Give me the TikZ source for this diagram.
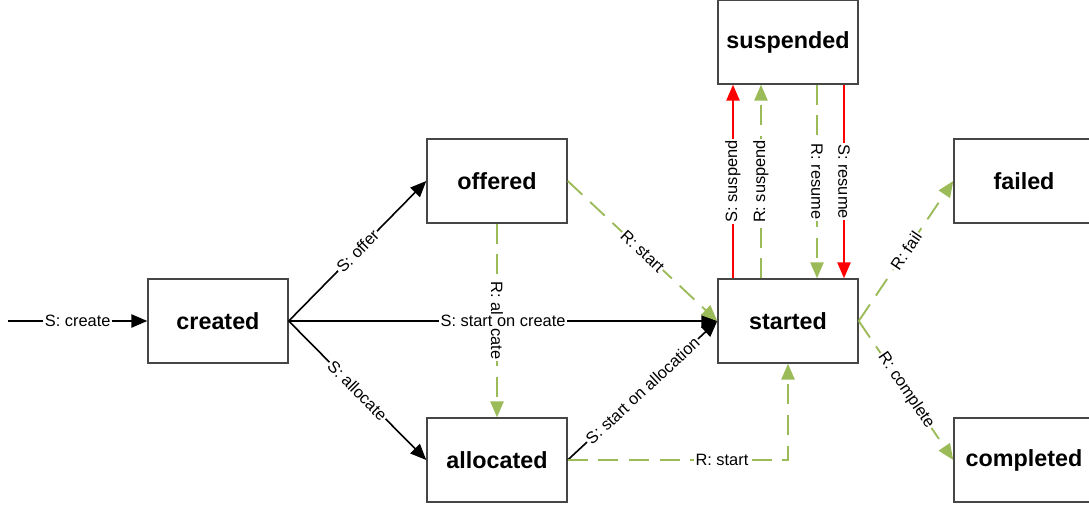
\documentclass[tikz,border=0pt]{standalone}
\usepackage{fontspec}
\setmainfont{Liberation Sans}
\usetikzlibrary{positioning, arrows.meta}
\definecolor{resgreen}{RGB}{155,187,89}
\definecolor{boxgray}{RGB}{70,70,70}

\begin{document}
\begin{tikzpicture}[x=0.75pt, y=-0.75pt,
  stateb/.style={draw=boxgray, line width=1.1pt, fill=white,
                 minimum width=105pt, minimum height=63pt,
                 font=\fontsize{17.5}{20}\selectfont\bfseries, align=center},
  lbl/.style={fill=white, text=black, inner sep=1pt, font=\fontsize{12.3}{14}\selectfont},
  sarr/.style={-{Triangle[length=12pt, width=10pt]}, line width=1.2pt, black},
  rarr/.style={-{Triangle[length=12pt, width=10pt]}, line width=1.4pt, resgreen,
               dash pattern=on 15pt off 8pt},
  redarr/.style={-{Triangle[length=12pt, width=10pt]}, line width=1.2pt, red},
]
\useasboundingbox (0,0) rectangle (1089,504);

% States
\node[stateb] (created)   at (218, 321) {created};
\node[stateb] (offered)   at (497, 181) {offered};
\node[stateb] (allocated) at (497, 460) {allocated};
\node[stateb] (started)   at (788, 321) {started};
\node[stateb] (suspended) at (788,  42) {suspended};
\node[stateb] (failed)    at (1024, 181) {failed};
\node[stateb] (completed) at (1024, 460) {completed};

% Initial transition
\coordinate (init) at (8, 321);
\draw[sarr] (init) -- node[lbl] {S: create} (created.west);

% R: allocate (drawn first, the start-on-create label covers it)
\draw[rarr] (offered.south) -- node[lbl, rotate=-90] {R: allocate} (allocated.north);

% System transitions from created
\draw[sarr] (created.east) -- node[lbl, sloped] {S: offer} (offered.west);
\draw[sarr] (created.east) -- node[lbl, sloped] {S: allocate} (allocated.west);
\draw[sarr] (created.east) -- node[lbl] {S: start on create} (started.west);

% Start transitions
\draw[rarr] (offered.east) -- node[lbl, sloped] {R: start} (started.west);
\draw[sarr] (allocated.east) -- node[lbl, sloped] {S: start on allocation} (started.west);
\draw[rarr] (allocated.east) -| node[lbl, pos=0.35] {R: start} (started.south);

% Suspend / resume
\draw[redarr] ([xshift=-55*0.75pt]started.north) -- node[lbl, rotate=90] {S: suspend}
  ([xshift=-55*0.75pt]suspended.south);
\draw[rarr] ([xshift=-27*0.75pt]started.north) -- node[lbl, rotate=90] {R: suspend}
  ([xshift=-27*0.75pt]suspended.south);
\draw[rarr] ([xshift=29*0.75pt]suspended.south) -- node[lbl, rotate=-90] {R: resume}
  ([xshift=29*0.75pt]started.north);
\draw[redarr] ([xshift=56*0.75pt]suspended.south) -- node[lbl, rotate=-90] {S: resume}
  ([xshift=56*0.75pt]started.north);

% Final states
\draw[rarr] (started.east) -- node[lbl, sloped] {R: fail} (failed.west);
\draw[rarr] (started.east) -- node[lbl, sloped] {R: complete} (completed.west);

\end{tikzpicture}
\end{document}
